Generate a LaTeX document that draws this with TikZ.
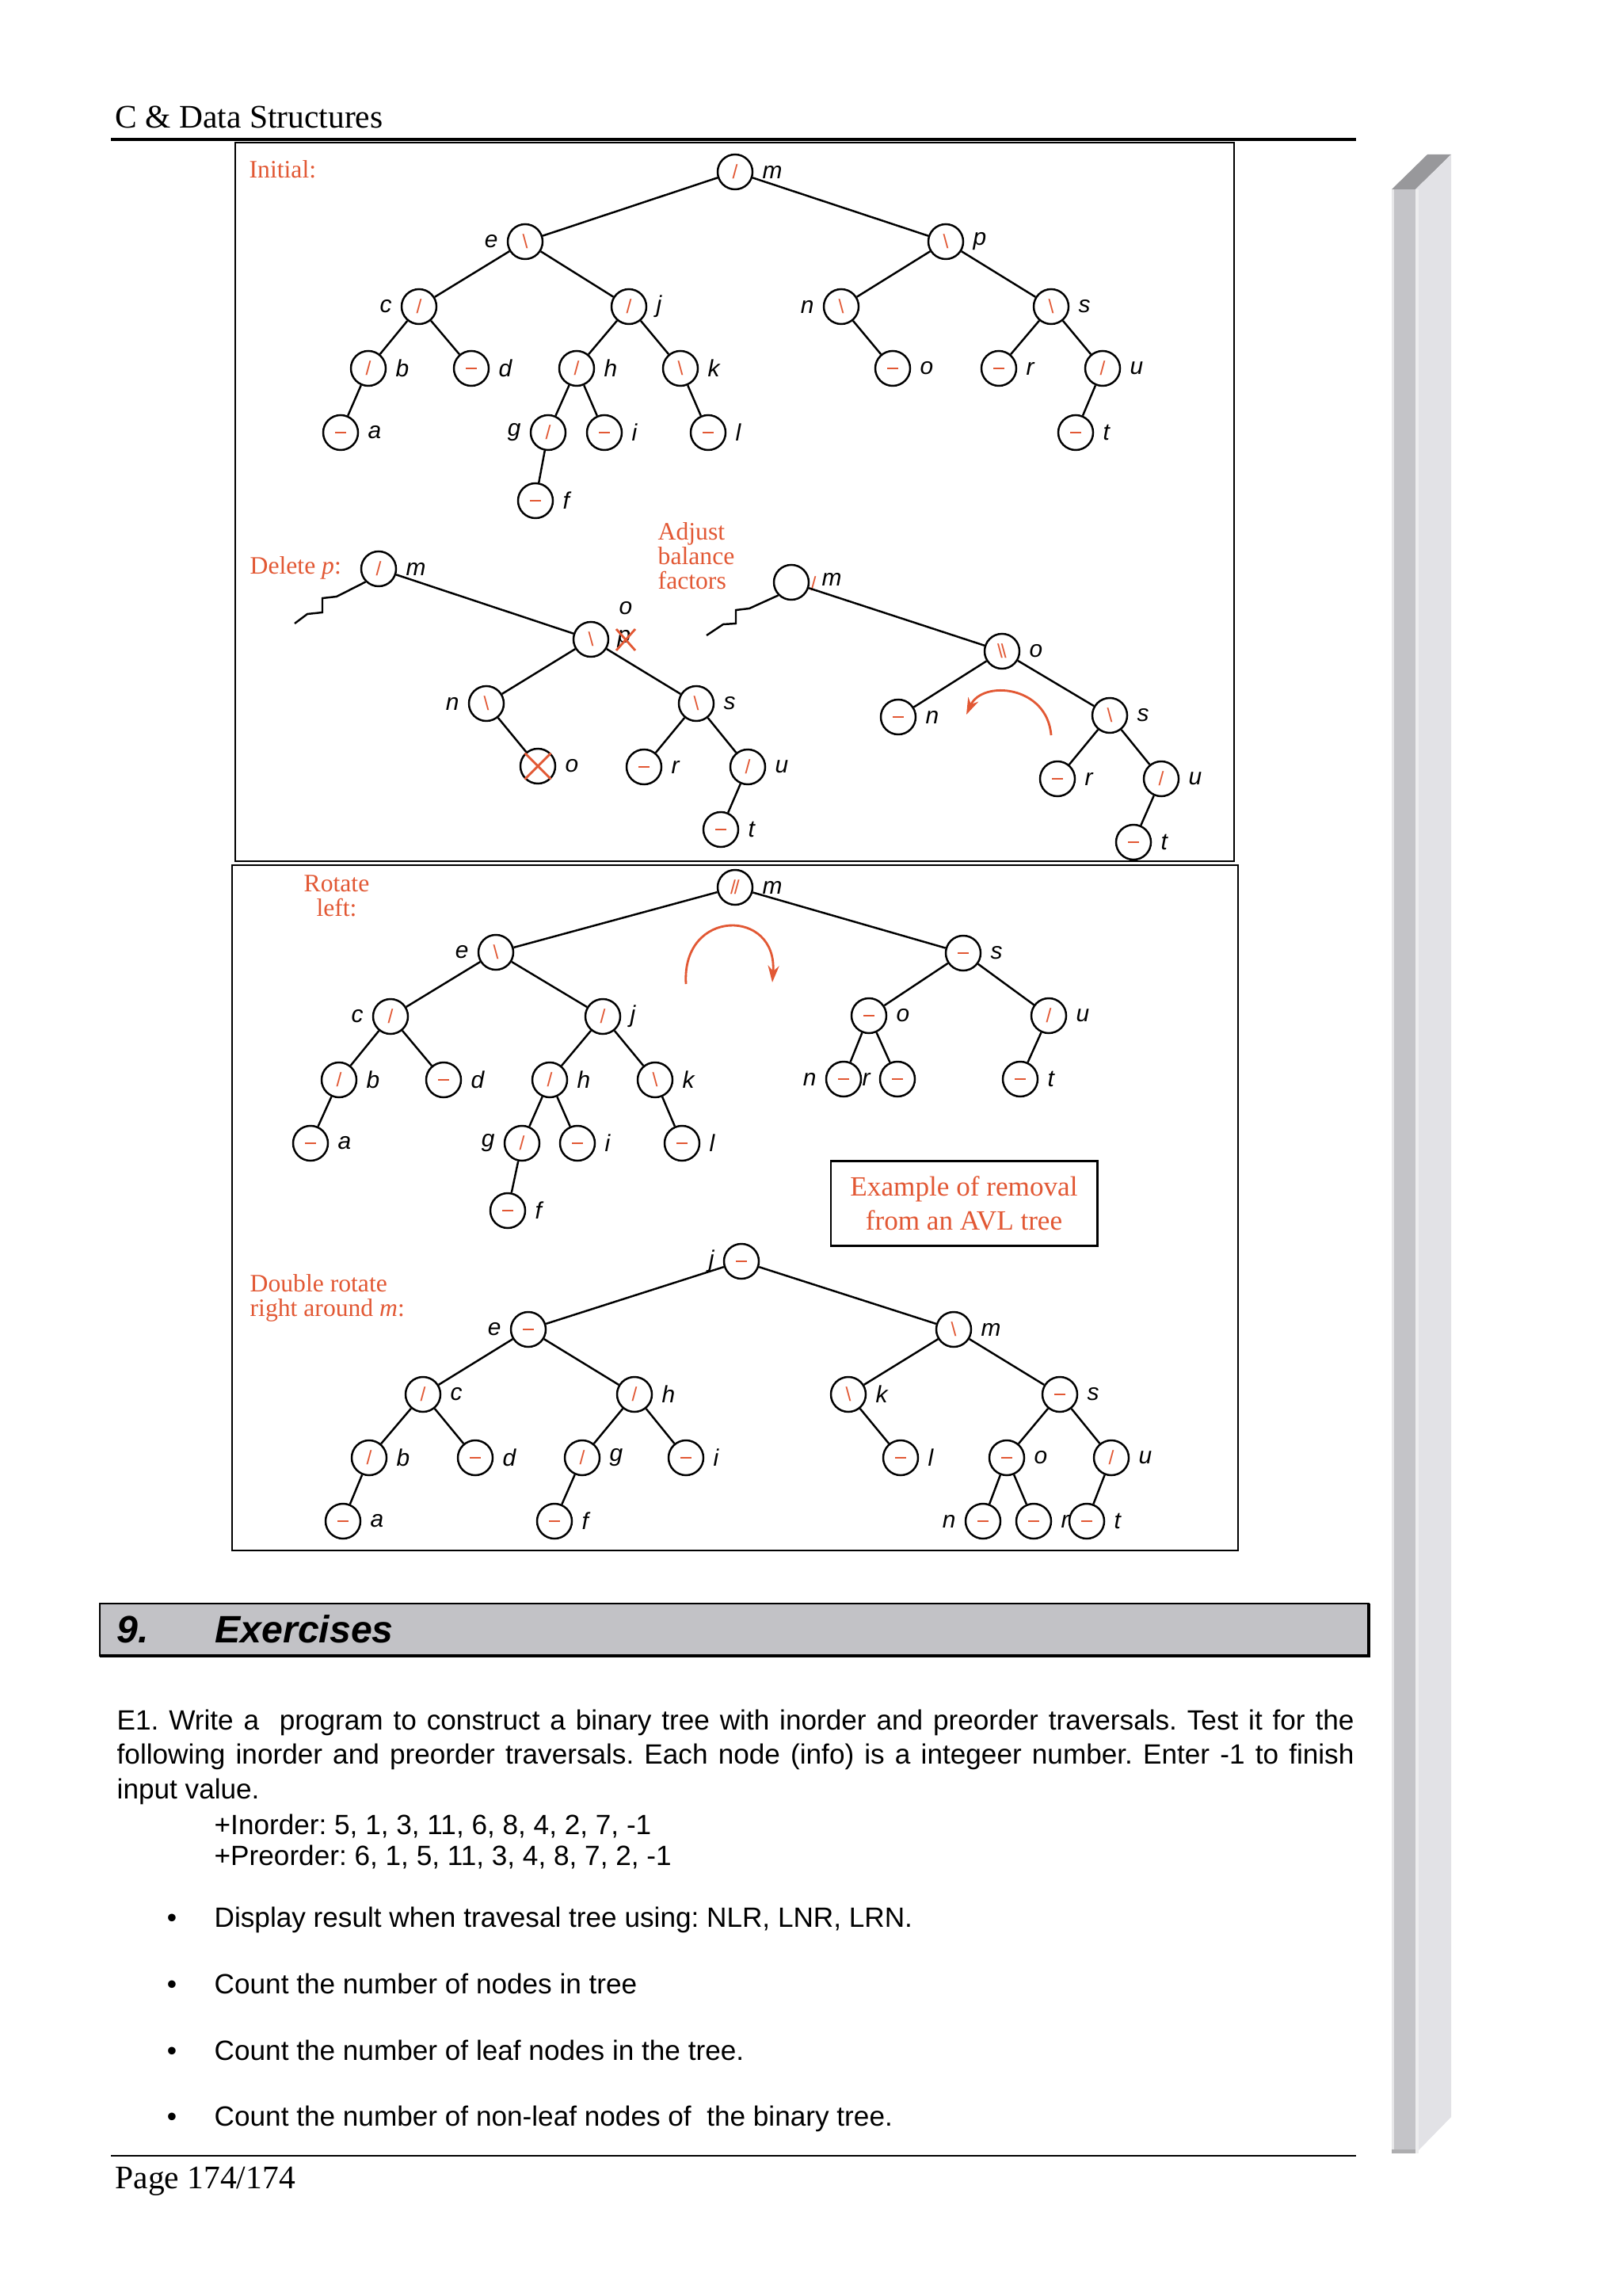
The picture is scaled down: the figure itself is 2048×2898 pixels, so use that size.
\documentclass[tikz,border=0pt]{standalone}
\usepackage{fontspec}
\setmainfont{Liberation Serif}
\setsansfont{Liberation Sans}
\usetikzlibrary{arrows.meta}
\definecolor{avlred}{RGB}{226,88,52}
\definecolor{bargray}{RGB}{194,194,198}
\definecolor{sidetop}{RGB}{152,152,155}
\definecolor{sidefront}{RGB}{196,196,200}
\definecolor{sideface}{RGB}{226,226,230}

% balance factors
\newcommand{\balL}{/}
\newcommand{\balR}{\textbackslash}
\newcommand{\balE}{\rule{3.8pt}{0.8pt}}

\tikzset{
  avl/.style={circle,draw,line width=0.7pt,minimum size=0.44cm,inner sep=0pt,
    text=avlred,font=\sffamily\fontsize{7}{7}\selectfont},
  lbl/.style={font=\sffamily\itshape\fontsize{8.5}{9}\selectfont,inner sep=1pt,text=black},
  labr/.style={label={[lbl,label distance=2pt]right:#1}},
  labl/.style={label={[lbl,label distance=2pt]left:#1}},
  link/.style={line width=0.7pt},
  capt/.style={text=avlred,font=\fontsize{9}{8.8}\selectfont,inner sep=0pt},
  rotarrow/.style={avlred,line width=0.8pt,-{Stealth[length=6pt,width=4pt]}},
  boxline/.style={line width=0.8pt},
  body/.style={font=\sffamily\fontsize{10}{12.4}\selectfont\frenchspacing,inner sep=0pt}
}

\begin{document}
\begin{tikzpicture}[x=0.01cm,y=-0.01cm]
  \useasboundingbox (0,0) rectangle (2048,2898);
  \fill[white] (0,0) rectangle (2048,2898);

  % page header
  \node[anchor=base west,inner sep=0pt,font=\fontsize{11.8}{14}\selectfont] (head) at (145,162) {C \& Data Structures};
  \draw[line width=0.9pt] (140,176) -- (1712,176);

  % frames
  \draw[boxline] (297,180) rectangle (1558,1087);
  \draw[boxline] (293,1092) rectangle (1563,1957);

  % Initial tree
  \node[capt,anchor=west] (capI) at (314,214) {Initial:};
  \node[avl,labr=m] (Im) at (928,217) {\balL};
  \node[avl,labl=e] (Ie) at (663,305) {\balR};
  \node[avl,labr=p] (Ip) at (1194,305) {\balR};
  \node[avl,labl=c] (Ic) at (529,387) {\balL};
  \node[avl,labr=j] (Ij) at (794,387) {\balL};
  \node[avl,labl=n] (In) at (1062,387) {\balR};
  \node[avl,labr=s] (Is) at (1327,387) {\balR};
  \node[avl,labr=b] (Ib) at (465,465) {\balL};
  \node[avl,labr=d] (Id) at (595,465) {\balE};
  \node[avl,labr=h] (Ih) at (728,465) {\balL};
  \node[avl,labr=k] (Ik) at (859,465) {\balR};
  \node[avl,labr=o] (Io) at (1127,465) {\balE};
  \node[avl,labr=r] (Ir) at (1261,465) {\balE};
  \node[avl,labr=u] (Iu) at (1392,465) {\balL};
  \node[avl,labr=a] (Ia) at (430,546) {\balE};
  \node[avl,labl=g] (Ig) at (692,546) {\balL};
  \node[avl,labr=i] (Ii) at (763,546) {\balE};
  \node[avl,labr=l] (Il) at (894,546) {\balE};
  \node[avl,labr=t] (It) at (1358,546) {\balE};
  \node[avl,labr=f] (If) at (676,632) {\balE};
  \foreach \a/\b in {m/e,m/p,e/c,e/j,c/b,c/d,b/a,j/h,j/k,h/g,h/i,g/f,k/l,p/n,p/s,n/o,s/r,s/u,u/t}
    \draw[link] (I\a) -- (I\b);

  % Delete p
  \node[capt,anchor=west] (capD) at (315,717) {Delete \textit{p}:};
  \node[avl,labr=m] (Dm) at (478,718) {\balL};
  \node[avl] (Do) at (746,807) {\balR};
  \node[lbl] (Dol) at (790,768) {o};
  \node[lbl] (Dpl) at (788,807) {p};
  \draw[avlred,line width=0.8pt] (778,794) -- (802,821) (802,794) -- (778,821);
  \node[avl,labl=n] (Dn) at (614,888) {\balR};
  \node[avl,labr=s] (Ds) at (879,888) {\balR};
  \node[avl,labr=o] (Dx) at (679,967) {};
  \draw[avlred,line width=0.8pt] (Dx.north west) -- (Dx.south east) (Dx.north east) -- (Dx.south west);
  \node[avl,labr=r] (Dr) at (813,968) {\balE};
  \node[avl,labr=u] (Du) at (944,968) {\balL};
  \node[avl,labr=t] (Dt) at (910,1047) {\balE};
  \foreach \a/\b in {m/o,o/n,o/s,n/x,s/r,s/u,u/t}
    \draw[link] (D\a) -- (D\b);
  \draw[link] (Dm.south west) -- (425,753) -- (407,755) -- (407,773) -- (388,775) -- (372,787);

  % Adjust balance factors
  \node[capt,anchor=north west,align=left] (capA) at (830,659) {Adjust\\balance\\factors};
  \node[avl] (Am) at (999,735) {};
  \node[avl,draw=none] (Amb) at (1027,737) {\balL};
  \node[lbl] (Aml) at (1050,731) {m};
  \node[avl,labr=o] (Ao) at (1265,822) {\balR\kern-0.6pt\balR};
  \node[avl,labr=n] (An) at (1134,905) {\balE};
  \node[avl,labr=s] (As) at (1401,903) {\balR};
  \node[avl,labr=r] (Ar) at (1335,983) {\balE};
  \node[avl,labr=u] (Au) at (1466,983) {\balL};
  \node[avl,labr=t] (At) at (1431,1063) {\balE};
  \foreach \a/\b in {m/o,o/n,o/s,s/r,s/u,u/t}
    \draw[link] (A\a) -- (A\b);
  \draw[link] (Am.south west) -- (946,768) -- (929,770) -- (929,787) -- (913,788) -- (892,802);
  \draw[rotarrow] (1327,928) .. controls (1322,865) and (1240,858) .. (1220,902);

  % Rotate left
  \node[capt,anchor=north,align=center] (capR) at (425,1104) {Rotate\\left:};
  \node[avl,labr=m] (Rm) at (928,1120) {\balL\kern-0.6pt\balL};
  \node[avl,labl=e] (Re) at (626,1202) {\balR};
  \node[avl,labr=s] (Rs) at (1216,1203) {\balE};
  \node[avl,labl=c] (Rc) at (493,1283) {\balL};
  \node[avl,labr=j] (Rj) at (761,1283) {\balL};
  \node[avl,labr=o] (Ro) at (1097,1282) {\balE};
  \node[avl,labr=u] (Ru) at (1324,1282) {\balL};
  \node[avl,labr=b] (Rb) at (428,1363) {\balL};
  \node[avl,labr=d] (Rd) at (560,1363) {\balE};
  \node[avl,labr=h] (Rh) at (694,1363) {\balL};
  \node[avl,labr=k] (Rk) at (827,1363) {\balR};
  \node[avl,labl=n] (Rn) at (1065,1362) {\balE};
  \node[avl,labl=r] (Rr) at (1133,1362) {\balE};
  \node[avl,labr=t] (Rt) at (1288,1362) {\balE};
  \node[avl,labr=a] (Ra) at (392,1443) {\balE};
  \node[avl,labl=g] (Rg) at (659,1443) {\balL};
  \node[avl,labr=i] (Ri) at (729,1443) {\balE};
  \node[avl,labr=l] (Rl) at (861,1443) {\balE};
  \node[avl,labr=f] (Rf) at (641,1528) {\balE};
  \foreach \a/\b in {m/e,m/s,e/c,e/j,c/b,c/d,b/a,j/h,j/k,h/g,h/i,g/f,k/l,s/o,s/u,o/n,o/r,u/t}
    \draw[link] (R\a) -- (R\b);
  \draw[rotarrow] (866,1242) .. controls (860,1146) and (982,1146) .. (975,1240);

  \node[draw,boxline,text=avlred,font=\fontsize{10}{12.2}\selectfont,align=center,
    minimum width=3.36cm,minimum height=1.07cm] (note) at (1217,1519) {Example of removal\\from an AVL tree};

  % Double rotate right around m
  \node[capt,anchor=north west,align=left] (capW) at (315,1608) {Double rotate\\right around \textit{m}:};
  \node[avl,labl=j] (Wj) at (936,1592) {\balE};
  \node[avl,labl=e] (We) at (667,1678) {\balE};
  \node[avl,labr=m] (Wm) at (1204,1678) {\balR};
  \node[avl,labr=c] (Wc) at (534,1760) {\balL};
  \node[avl,labr=h] (Wh) at (801,1760) {\balL};
  \node[avl,labr=k] (Wk) at (1071,1760) {\balR};
  \node[avl,labr=s] (Ws) at (1338,1760) {\balE};
  \node[avl,labr=b] (Wb) at (466,1840) {\balL};
  \node[avl,labr=d] (Wd) at (600,1840) {\balE};
  \node[avl,labr=g] (Wg) at (735,1840) {\balL};
  \node[avl,labr=i] (Wi) at (866,1840) {\balE};
  \node[avl,labr=l] (Wl) at (1137,1840) {\balE};
  \node[avl,labr=o] (Wo) at (1271,1840) {\balE};
  \node[avl,labr=u] (Wu) at (1403,1840) {\balL};
  \node[avl,labr=a] (Wa) at (433,1920) {\balE};
  \node[avl,labr=f] (Wf) at (700,1920) {\balE};
  \node[avl,labl=n] (Wn) at (1241,1920) {\balE};
  \node[avl,labr=r] (Wr) at (1305,1920) {\balE};
  \node[avl,labr=t] (Wt) at (1372,1920) {\balE};
  \foreach \a/\b in {j/e,j/m,e/c,e/h,c/b,c/d,b/a,h/g,h/i,g/f,m/k,m/s,k/l,s/o,s/u,o/n,o/r,u/t}
    \draw[link] (W\a) -- (W\b);

  % Exercises
  \fill[bargray] (126,2024) rectangle (1728,2090);
  \draw[line width=0.5pt] (126,2024) rectangle (1728,2090);
  \draw[line width=1.2pt] (126,2090) -- (1728,2090) -- (1728,2024);
  \node[anchor=base west,inner sep=0pt,font=\sffamily\bfseries\itshape\fontsize{13.7}{16}\selectfont] (secno) at (147,2073) {9.};
  \node[anchor=base west,inner sep=0pt,font=\sffamily\bfseries\itshape\fontsize{13.7}{16}\selectfont] (sec) at (271,2073) {Exercises};

  \node[body,anchor=base west,text width=15.61cm,align=justify] (ex1) at (147,2183)
    {E1. Write a\ \ program to construct a binary tree with inorder and preorder traversals. Test it for the\linebreak
     following inorder and preorder traversals. Each node (info) is a integeer number. Enter -1 to finish\linebreak
     input value.};
  \node[body,anchor=base west] (ino) at (270,2315) {+Inorder: 5, 1, 3, 11, 6, 8, 4, 2, 7, -1};
  \node[body,anchor=base west] (pre) at (270,2354) {+Preorder: 6, 1, 5, 11, 3, 4, 8, 7, 2, -1};

  \node[body,anchor=base] (dot1) at (217,2432) {\textbullet};
  \node[body,anchor=base west] (it1) at (270,2432) {Display result when travesal tree using: NLR, LNR, LRN.};
  \node[body,anchor=base] (dot2) at (217,2516) {\textbullet};
  \node[body,anchor=base west] (it2) at (270,2516) {Count the number of nodes in tree};
  \node[body,anchor=base] (dot3) at (217,2600) {\textbullet};
  \node[body,anchor=base west] (it3) at (270,2600) {Count the number of leaf nodes in the tree.};
  \node[body,anchor=base] (dot4) at (217,2683) {\textbullet};
  \node[body,anchor=base west] (it4) at (270,2683) {Count the number of non-leaf nodes of\ \ the binary tree.};

  % page footer
  \draw[line width=0.6pt] (140,2721) -- (1712,2721);
  \node[anchor=base west,inner sep=0pt,font=\fontsize{11.8}{14}\selectfont] (foot) at (145,2762) {Page 174/174};

  % side bar
  \fill[sidetop] (1757,239) -- (1802,195) -- (1832,195) -- (1787,239) -- cycle;
  \fill[sidefront] (1757,239) rectangle (1787,2718);
  \fill[sideface] (1787,239) -- (1832,195) -- (1832,2672) -- (1787,2718) -- cycle;
  \fill[sidefront!40] (1757,239) rectangle (1760,2718);
  \fill[sidefront!30] (1787,239) rectangle (1791,2718);
  \fill[sidetop!80] (1757,2713) rectangle (1787,2718);
\end{tikzpicture}
\end{document}
